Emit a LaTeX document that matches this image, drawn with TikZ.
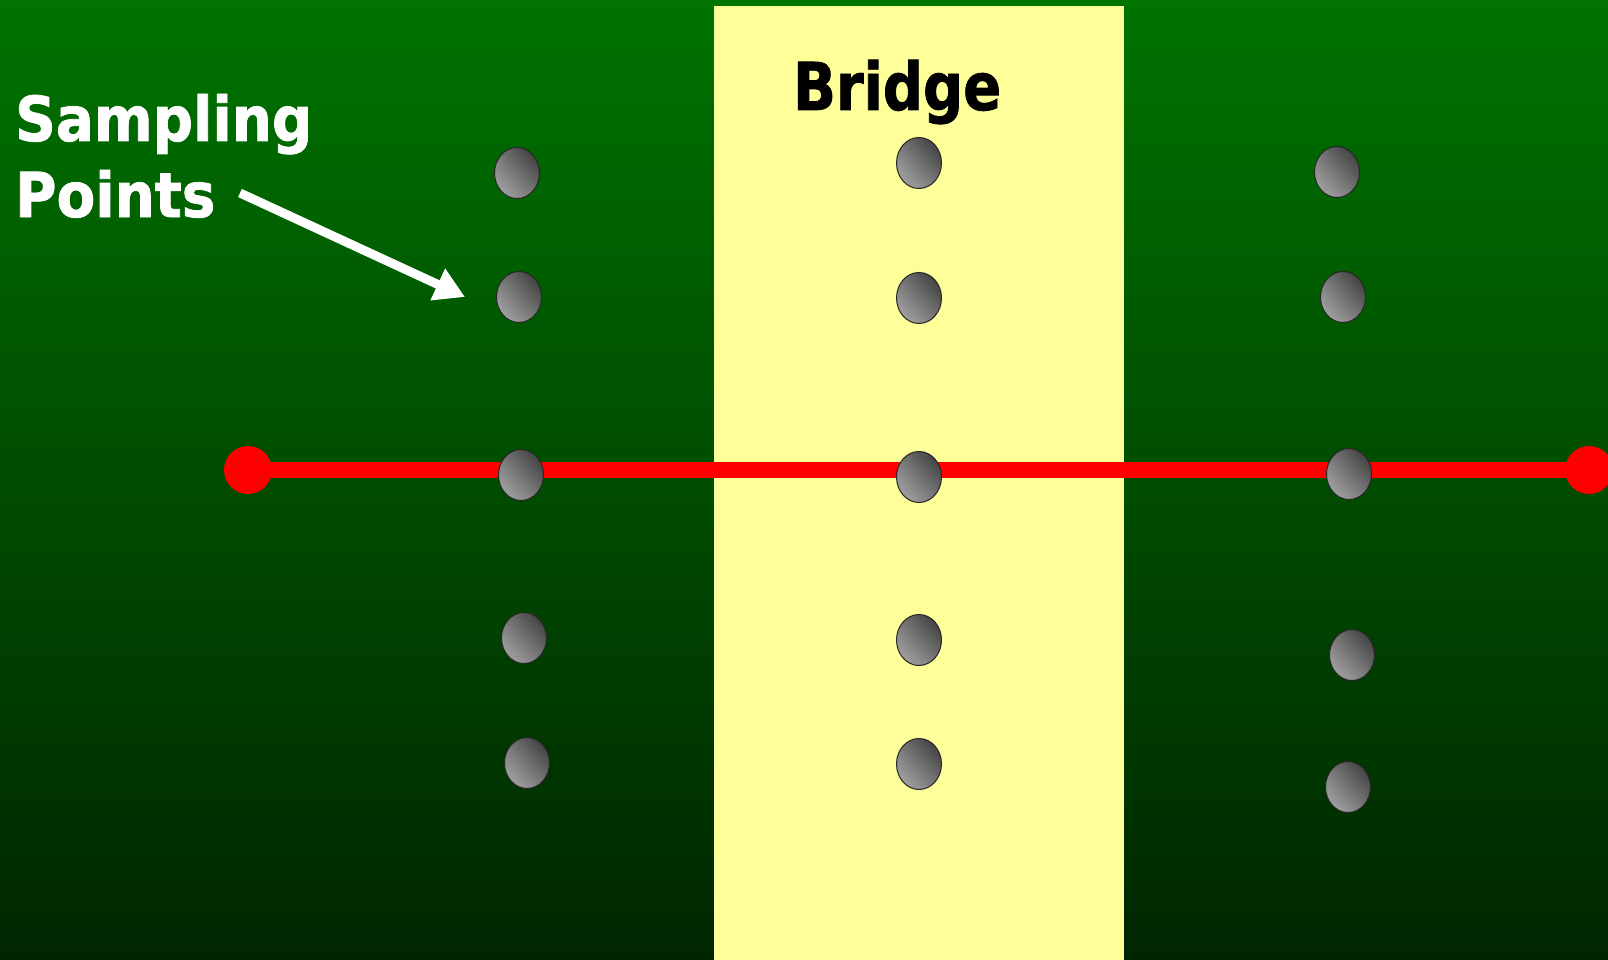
\documentclass[tikz,border=0pt]{standalone}
\usepackage{fontspec}
\setmainfont{DejaVu Sans}
\newfontfamily\titlefont[FakeStretch=0.85,FakeBold=1.2]{DejaVu Sans Bold}
\newfontfamily\calloutfont[FakeStretch=0.91,FakeBold=1.2]{DejaVu Sans Bold}
\usetikzlibrary{shapes.geometric,arrows.meta,shadings}
\definecolor{bgtop}{RGB}{0,115,0}
\definecolor{bgbottom}{RGB}{0,38,0}
\definecolor{bridgeyellow}{RGB}{255,255,153}
\definecolor{dotlight}{RGB}{176,176,176}
\definecolor{dotmid}{RGB}{118,118,118}
\definecolor{dotdark}{RGB}{48,48,48}
\begin{document}
\begin{tikzpicture}[x=1pt,y=-1pt,
  sample/.style={ellipse,draw=black!85,line width=1pt,minimum width=45pt,minimum height=51pt,inner sep=0pt,
    lower left=dotlight,upper right=dotdark,upper left=dotmid,lower right=dotmid},
  endpoint/.style={circle,fill=red,minimum size=48pt,inner sep=0pt},
  title/.style={font=\titlefont\fontsize{66}{66}\selectfont,text=black,inner sep=0pt,anchor=base west},
  callout/.style={font=\calloutfont\fontsize{62}{76}\selectfont,text=white,inner sep=0pt,align=left,anchor=base west}]
\useasboundingbox (0,0) rectangle (1608,960);
\shade[top color=bgtop,bottom color=bgbottom] (0,0) rectangle (1608,960);
\fill[bridgeyellow] (714,6) rectangle (1124,960);
% red line
\node[endpoint] (L) at (248,470) {};
\node[endpoint] (R) at (1589,470) {};
\draw[red,line width=16pt] (L.center) -- (R.center);
% sampling points
\node[sample] (p11) at (517,173) {};
\node[sample] (p12) at (519,297) {};
\node[sample] (p13) at (521,475) {};
\node[sample] (p14) at (524,638) {};
\node[sample] (p15) at (527,763) {};
\node[sample] (p21) at (919,163) {};
\node[sample] (p22) at (919,298) {};
\node[sample] (p23) at (919,477) {};
\node[sample] (p24) at (919,640) {};
\node[sample] (p25) at (919,764) {};
\node[sample] (p31) at (1337,172) {};
\node[sample] (p32) at (1343,297) {};
\node[sample] (p33) at (1349,474) {};
\node[sample] (p34) at (1352,655) {};
\node[sample] (p35) at (1348,787) {};
% labels
\node[title] (bridge) at (793,110) {Bridge};
\node[callout] (sampling) at (15,217) {Sampling\\Points};
\coordinate (arrowstart) at (240,193);
\coordinate (arrowtip) at (465,297);
\draw[white,line width=9pt,-{Triangle[length=30pt,width=33pt]}] (arrowstart) -- (arrowtip);
\end{tikzpicture}
\end{document}
